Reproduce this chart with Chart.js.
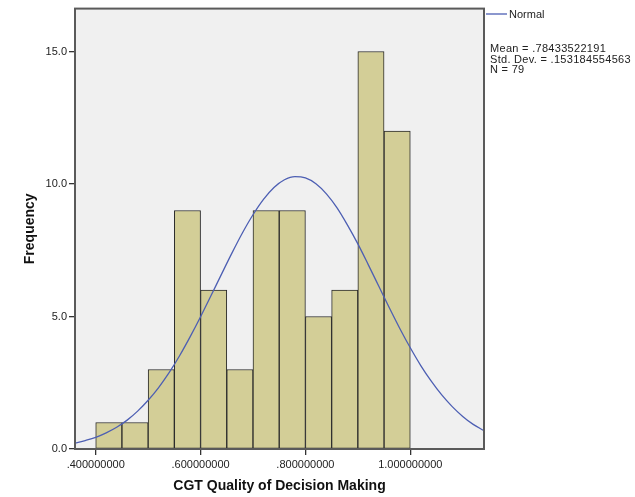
<!DOCTYPE html>
<html>
<head>
<meta charset="utf-8">
<script src="https://cdn.jsdelivr.net/npm/chart.js@4"></script>
<style>
  html, body { margin: 0; padding: 0; background: #ffffff; }
  #wrap { position: relative; width: 635px; height: 497px; }
</style>
</head>
<body>
<div id="wrap"><canvas id="c" width="635" height="497"></canvas></div>
<script>
// ---- data ----
const binCenters = [0.425, 0.475, 0.525, 0.575, 0.625, 0.675, 0.725, 0.775, 0.825, 0.875, 0.925, 0.975];
const counts     = [1, 1, 3, 9, 6, 3, 9, 9, 5, 6, 15, 12];

const curveX = [0.36, 0.38, 0.40, 0.42, 0.44, 0.46, 0.48, 0.50, 0.52, 0.54, 0.56, 0.58, 0.60,
                0.62, 0.64, 0.66, 0.68, 0.70, 0.72, 0.74, 0.76, 0.78, 0.80, 0.82, 0.84, 0.86,
                0.88, 0.90, 0.92, 0.94, 0.96, 0.98, 1.00, 1.02, 1.04, 1.06, 1.08, 1.10, 1.12, 1.14];
const curveY = [0.22, 0.32, 0.44, 0.61, 0.82, 1.09, 1.43, 1.84, 2.32, 2.88, 3.52, 4.23, 4.99,
                5.79, 6.60, 7.40, 8.16, 8.84, 9.42, 9.87, 10.16, 10.28, 10.23, 10.01, 9.63, 9.11,
                8.46, 7.74, 6.95, 6.14, 5.33, 4.55, 3.82, 3.15, 2.56, 2.04, 1.60, 1.23, 0.93, 0.70];

const xTickValues = [0.4, 0.6, 0.8, 1.0];
const xTickLabels = ['.400000000', '.600000000', '.800000000', '1.000000000'];
const yTickValues = [0, 5, 10, 15];
const yTickLabels = ['0.0', '5.0', '10.0', '15.0'];

const xTitle = 'CGT Quality of Decision Making';
const yTitle = 'Frequency';
const legendLabel = 'Normal';
const statsLines = ['Mean = .78433522191', 'Std. Dev. = .153184554563', 'N = 79'];

// ---- build chart ----
const FONT = "'Liberation Sans', Arial, sans-serif";
const barData = binCenters.map((x, i) => ({ x: x, y: counts[i] }));
const lineData = curveX.map((x, i) => ({ x: x, y: curveY[i] }));
const curveColor = '#4d5fb3';

const framePlugin = {
  id: 'frame',
  beforeDatasetsDraw(chart) {
    const { ctx, chartArea: a } = chart;
    ctx.save();
    ctx.fillStyle = '#f0f0f0';
    ctx.fillRect(a.left, a.top, a.right - a.left, a.bottom - a.top);
    ctx.restore();
  },
  afterDraw(chart) {
    const { ctx, chartArea: a } = chart;
    ctx.save();
    ctx.strokeStyle = '#5a5a5a';
    ctx.lineWidth = 2;
    ctx.strokeRect(a.left, a.top, a.right - a.left, a.bottom - a.top);
    // legend
    const lx = a.right + 2;
    ctx.strokeStyle = curveColor;
    ctx.lineWidth = 1.3;
    ctx.beginPath();
    ctx.moveTo(lx, 14);
    ctx.lineTo(lx + 21, 14);
    ctx.stroke();
    ctx.fillStyle = '#222';
    ctx.font = '11px ' + FONT;
    ctx.textBaseline = 'middle';
    ctx.textAlign = 'left';
    ctx.fillText(legendLabel, lx + 23, 14.5);
    ctx.letterSpacing = '0.3px';
    statsLines.forEach((s, i) => ctx.fillText(s, a.right + 6, 49 + i * 10.5));
    ctx.restore();
  }
};

new Chart(document.getElementById('c'), {
  type: 'bar',
  data: {
    datasets: [
      {
        type: 'line',
        data: lineData,
        borderColor: curveColor,
        borderWidth: 1.3,
        pointRadius: 0,
        cubicInterpolationMode: 'monotone',
        fill: false,
        order: 0
      },
      {
        type: 'bar',
        data: barData,
        backgroundColor: '#d3ce97',
        borderColor: '#2a2a2a',
        borderWidth: 1,
        borderSkipped: false,
        barPercentage: 1,
        categoryPercentage: 1,
        order: 1
      }
    ]
  },
  options: {
    responsive: false,
    animation: false,
    events: [],
    layout: { padding: { left: 22, right: 151, top: 6, bottom: 2 } },
    plugins: { legend: { display: false }, tooltip: { enabled: false } },
    scales: {
      x: {
        type: 'linear',
        offset: false,
        min: 0.3605,
        max: 1.1406,
        afterFit(s) { s.height = 46; },
        afterBuildTicks(s) { s.ticks = xTickValues.map(v => ({ value: v })); },
        ticks: {
          autoSkip: false,
          maxRotation: 0,
          padding: 3,
          color: '#222',
          font: { family: FONT, size: 11 },
          callback: (v) => { const i = xTickValues.findIndex(t => Math.abs(t - v) < 1e-9); return i >= 0 ? xTickLabels[i] : ''; }
        },
        grid: { display: true, offset: false, drawOnChartArea: false, drawTicks: true, tickLength: 6, color: '#333', lineWidth: 1.3 },
        border: { display: false },
        title: { display: true, text: xTitle, color: '#111', padding: 0, font: { family: FONT, size: 14, weight: 'bold' } }
      },
      y: {
        type: 'linear',
        min: 0,
        max: 16.62,
        afterFit(s) { s.width = 53; },
        afterBuildTicks(s) { s.ticks = yTickValues.map(v => ({ value: v })); },
        ticks: {
          autoSkip: false,
          padding: 2,
          color: '#222',
          font: { family: FONT, size: 11 },
          callback: (v) => { const i = yTickValues.indexOf(v); return i >= 0 ? yTickLabels[i] : ''; }
        },
        grid: { display: true, drawOnChartArea: false, drawTicks: true, tickLength: 6, color: '#333', lineWidth: 1.3 },
        border: { display: false },
        title: { display: true, text: yTitle, color: '#111', padding: 0, font: { family: FONT, size: 14, weight: 'bold' } }
      }
    }
  },
  plugins: [framePlugin]
});
</script>
</body>
</html>
